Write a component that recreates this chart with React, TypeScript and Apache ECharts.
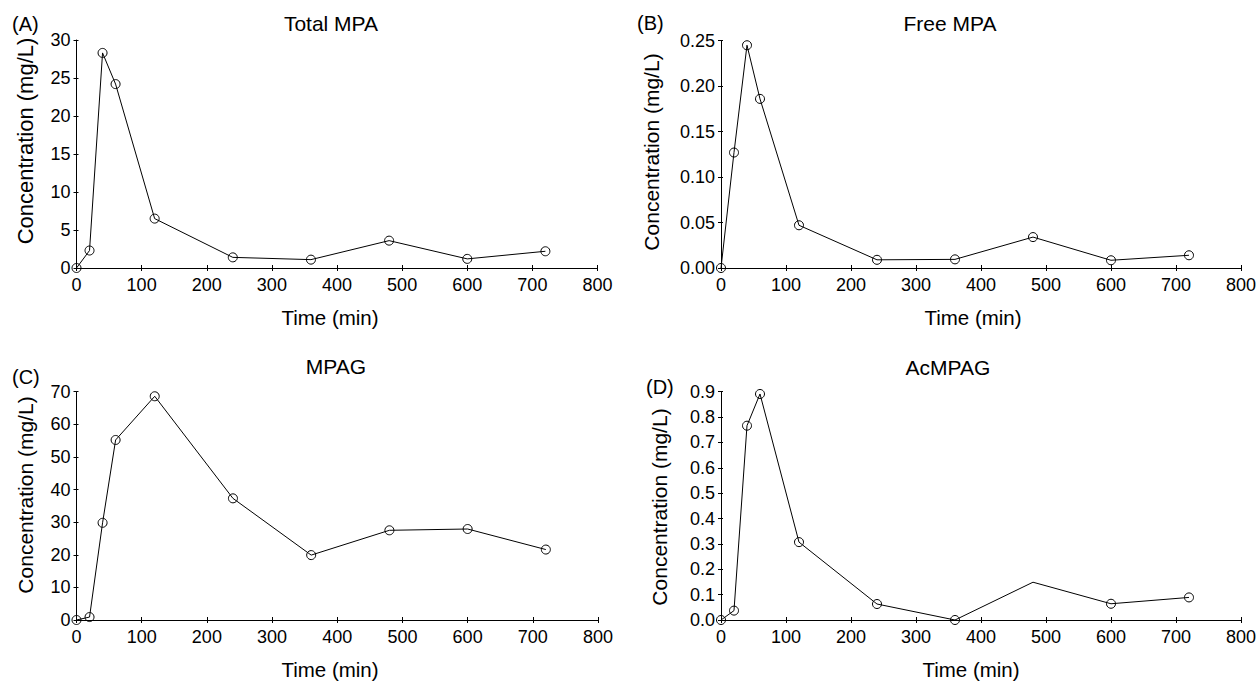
import React, { useEffect, useRef } from "react";
import * as echarts from "echarts";

const times = [0, 20, 40, 60, 120, 240, 360, 480, 600, 720];
const totalMPA = [0, 2.3, 28.3, 24.2, 6.5, 1.4, 1.1, 3.6, 1.2, 2.2];
const freeMPA = [0, 0.127, 0.245, 0.186, 0.047, 0.009, 0.0095, 0.034, 0.0085, 0.014];
const mpag = [0, 0.9, 29.8, 55.2, 68.6, 37.3, 19.9, 27.5, 27.9, 21.6];
const acmpag = [0, 0.037, 0.766, 0.891, 0.307, 0.063, 0, 0.149, 0.064, 0.089];
const acmpagNoMarker = [480];

const panelTitles = ["Total MPA", "Free MPA", "MPAG", "AcMPAG"];
const panelLetters = ["(A)", "(B)", "(C)", "(D)"];
const yMax = [30, 0.25, 70, 0.9];
const yInterval = [5, 0.05, 10, 0.1];
const yDecimals = [0, 2, 0, 1];
const xTitle = "Time (min)";
const yTitle = "Concentration (mg/L)";

const FONT = "'Liberation Sans', Arial, Helvetica, sans-serif";

export default function App() {
  const ref = useRef<HTMLDivElement>(null);
  useEffect(() => {
    if (!ref.current) return;
    const chart = echarts.init(ref.current, null, { renderer: "svg" });
    const grids = [
      { left: 76.5, top: 40, width: 521, height: 228 },
      { left: 721, top: 40.7, width: 522, height: 227.3 },
      { left: 76.5, top: 391.7, width: 521.5, height: 228.3 },
      { left: 721, top: 391.7, width: 521, height: 228.3 },
    ];
    const seriesData = [totalMPA, freeMPA, mpag, acmpag];
    const xAxes: any[] = [];
    const yAxes: any[] = [];
    const series: any[] = [];
    grids.forEach((g, i) => {
      xAxes.push({
        type: "value", gridIndex: i, min: 0, max: 800, interval: 100,
        axisLine: { lineStyle: { color: "#000", width: 1 } },
        axisTick: { length: 3, lineStyle: { color: "#000" } },
        axisLabel: { color: "#000", fontSize: 18, fontFamily: FONT, margin: 8 },
        splitLine: { show: false },
      });
      xAxes.push({
        type: "value", gridIndex: i, min: 0, max: 800, interval: 100, position: "bottom",
        axisLine: { show: false },
        axisTick: { inside: true, length: 3, lineStyle: { color: "#000" } },
        axisLabel: { show: false },
        splitLine: { show: false },
      });
      const dec = yDecimals[i];
      yAxes.push({
        type: "value", gridIndex: i, min: 0, max: yMax[i], interval: yInterval[i],
        axisLine: { show: true, lineStyle: { color: "#000", width: 1 } },
        axisTick: { show: true, length: 3, lineStyle: { color: "#000" } },
        axisLabel: {
          color: "#000", fontSize: 18, fontFamily: FONT, margin: 6,
          formatter: (v: number) => v.toFixed(dec),
        },
        splitLine: { show: false },
      });
      yAxes.push({
        type: "value", gridIndex: i, min: 0, max: yMax[i], interval: yInterval[i], position: "left",
        axisLine: { show: false },
        axisTick: { show: true, inside: true, length: 2, lineStyle: { color: "#000" } },
        axisLabel: { show: false },
        splitLine: { show: false },
      });
      const vals = seriesData[i];
      series.push({
        type: "line",
        xAxisIndex: i * 2,
        yAxisIndex: i * 2,
        data: times.map((t, k) => {
          const item: any = { value: [t, vals[k]] };
          if (i === 3 && acmpagNoMarker.includes(t)) item.symbol = "none";
          return item;
        }),
        symbol: "circle",
        symbolSize: 9,
        showSymbol: true,
        lineStyle: { color: "#000", width: 1 },
        itemStyle: { color: "rgba(255,255,255,0)", borderColor: "#000", borderWidth: 1 },
        z: 3,
      });
    });

    const titlePos = [[331, 23], [950, 23], [336, 366], [948, 367]];
    const letterPos = [[12, 24], [637, 23], [12, 377], [646, 387]];
    const yNamePos = [[25, 141], [651, 152], [25, 495], [659, 507]];
    const yNameSize = [22, 21, 21, 21];
    const xNamePos = [[330, 317], [973, 317], [330, 669], [971, 669]];
    const graphic: any[] = [];
    for (let i = 0; i < 4; i++) {
      graphic.push({
        type: "text", x: titlePos[i][0], y: titlePos[i][1],
        style: { text: panelTitles[i], fontSize: 21, fontFamily: FONT, fill: "#000", align: "center", verticalAlign: "middle" },
      });
      graphic.push({
        type: "text", x: letterPos[i][0], y: letterPos[i][1],
        style: { text: panelLetters[i], fontSize: 20, fontFamily: FONT, fill: "#000", align: "left", verticalAlign: "middle" },
      });
      graphic.push({
        type: "text", x: yNamePos[i][0], y: yNamePos[i][1], rotation: Math.PI / 2,
        style: { text: yTitle, fontSize: yNameSize[i], fontFamily: FONT, fill: "#000", align: "center", verticalAlign: "middle" },
      });
      graphic.push({
        type: "text", x: xNamePos[i][0], y: xNamePos[i][1],
        style: { text: xTitle, fontSize: 20.5, fontFamily: FONT, fill: "#000", align: "center", verticalAlign: "middle" },
      });
    }

    chart.setOption({
      animation: false,
      backgroundColor: "#fff",
      grid: grids,
      xAxis: xAxes,
      yAxis: yAxes,
      series,
      graphic,
    });
    return () => chart.dispose();
  }, []);
  return (
    <div
      ref={ref}
      style={{ position: "fixed", left: 0, top: 0, width: 1259, height: 682, background: "#fff" }}
    />
  );
}
